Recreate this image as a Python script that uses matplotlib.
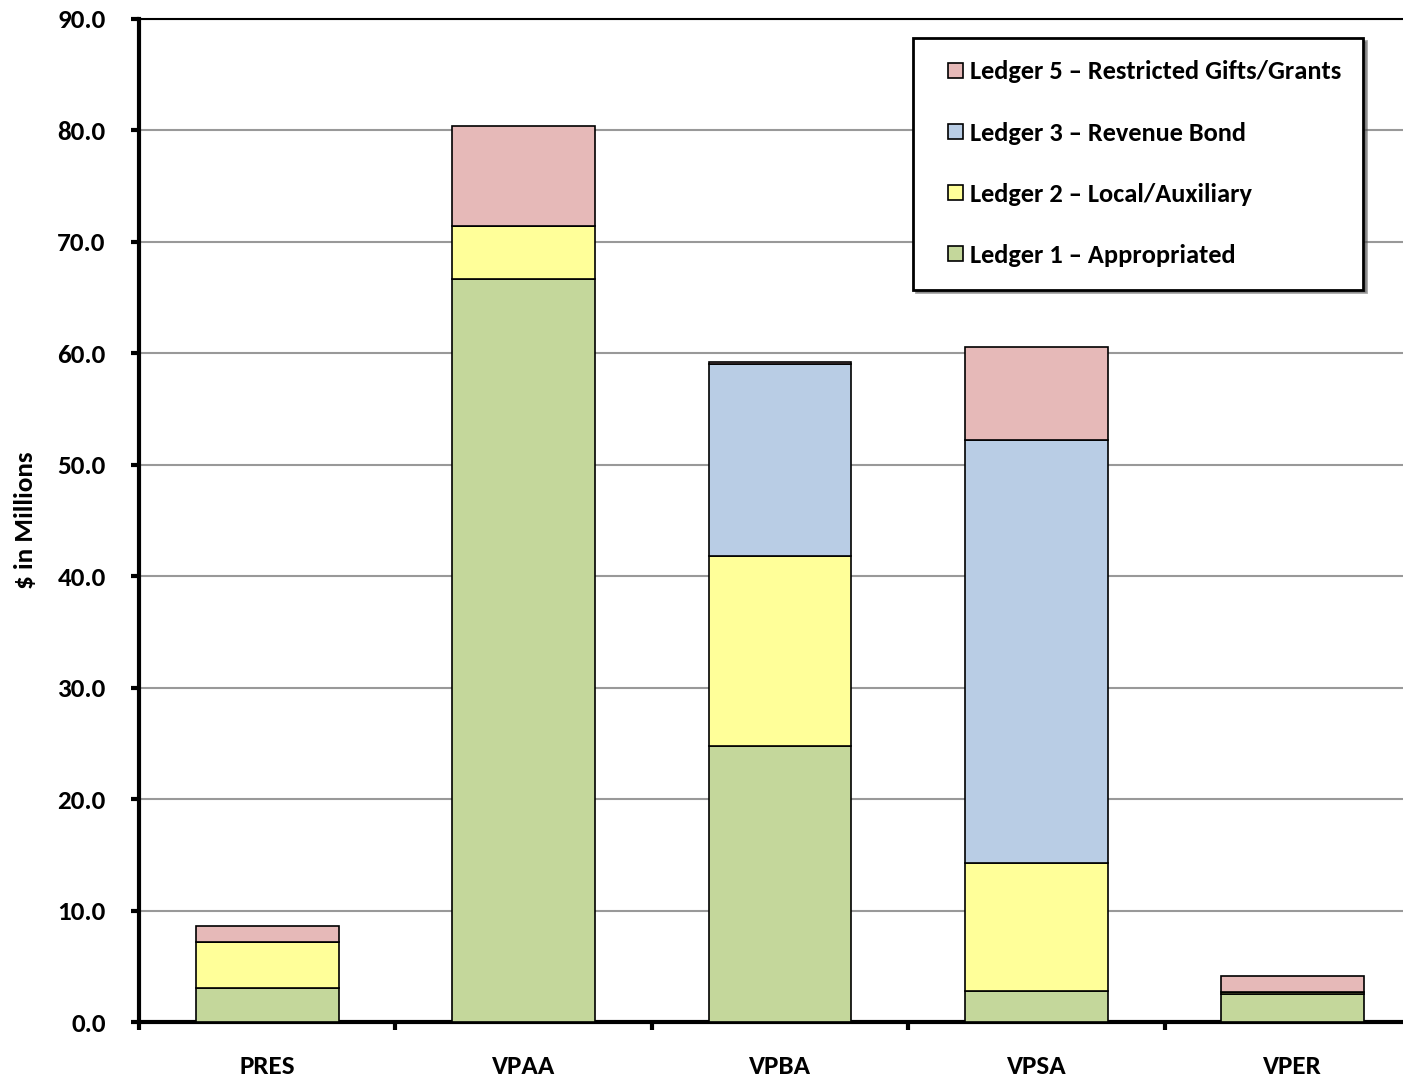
import matplotlib.pyplot as plt
import numpy as np
from matplotlib.legend_handler import HandlerPatch
from matplotlib.patches import Rectangle

# Category labels and ledger values ($ in millions).
categories = ["PRES", "VPAA", "VPBA", "VPSA", "VPER"]
ledger1 = [3.05, 66.7, 24.8, 2.8, 2.5]
ledger2 = [4.15, 4.75, 17.0, 11.5, 0.15]
ledger3 = [0.0, 0.0, 17.2, 37.9, 0.0]
ledger5 = [1.4, 8.95, 0.25, 8.4, 1.45]

series = [
    ("Ledger 1 \u2013 Appropriated", ledger1, "#C4D79B"),
    ("Ledger 2 \u2013 Local/Auxiliary", ledger2, "#FFFF99"),
    ("Ledger 3 \u2013 Revenue Bond", ledger3, "#B9CDE5"),
    ("Ledger 5 \u2013 Restricted Gifts/Grants", ledger5, "#E6B9B8"),
]

plt.rcParams["font.family"] = ["Carlito", "DejaVu Sans"]
plt.rcParams["font.weight"] = "bold"


# Small square legend key drawn at the right end of the handle slot.
def square_key(legend, orig_handle, xdescent, ydescent, width, height, fontsize):
    s = 15 * 72 / 100
    return Rectangle((-xdescent + width - s, -ydescent + (height - s) / 2), s, s)


fig = plt.figure(figsize=(14.03, 10.8), dpi=100)
ax = fig.add_axes([139 / 1403, 1 - 1022 / 1080, 1282 / 1403, 1003 / 1080])

x = np.arange(len(categories))
bottom = np.zeros(len(categories))
keys = []
labels = []
for label, vals, color in series:
    vals = np.array(vals)
    bars = ax.bar(x, vals, width=0.557, bottom=bottom, color=color,
                  edgecolor="black", linewidth=1.2, label=label, zorder=3)
    keys.append(bars.patches[0])
    labels.append(label)
    bottom += vals

ax.set_xlim(-0.5, 4.5)
ax.set_ylim(0, 90)
ax.set_yticks(np.arange(0, 91, 10))
ax.set_yticklabels([f"{v:.1f}" for v in np.arange(0, 91, 10)], fontsize=19.5, fontweight="bold")
ax.yaxis.grid(True, color="#999999", linewidth=1.5, zorder=0)

# category labels centered, tick marks at boundaries
ax.set_xticks(x)
ax.set_xticklabels(categories, fontsize=19.5, fontweight="bold")
ax.tick_params(axis="x", which="major", length=0, pad=24)
ax.set_xticks(np.arange(-0.5, 4.6, 1.0), minor=True)
ax.tick_params(axis="x", which="minor", length=6, width=3, direction="out")
ax.tick_params(axis="y", length=6, width=3, direction="out", pad=18)

for side in ["left", "bottom"]:
    ax.spines[side].set_linewidth(3)
ax.spines["top"].set_linewidth(1.5)
ax.spines["right"].set_visible(False)

ax.set_ylabel("$ in Millions", fontsize=19.5, fontweight="bold")
ax.yaxis.set_label_coords((37 - 139) / 1282, 0.5)

leg = ax.legend(keys[::-1], labels[::-1], loc="upper left",
                bbox_to_anchor=((913 - 139) / 1282, 1 - (38 - 19) / 1003),
                prop={"family": "Carlito", "weight": "bold", "size": 19},
                frameon=True, fancybox=False, shadow=True,
                edgecolor="black", labelspacing=1.45, handlelength=1.05,
                handleheight=0.6, handletextpad=0.25, borderpad=0.85,
                borderaxespad=0,
                handler_map={Rectangle: HandlerPatch(patch_func=square_key)})
leg.get_frame().set_linewidth(2)

fig.savefig("out.png", dpi=100)
